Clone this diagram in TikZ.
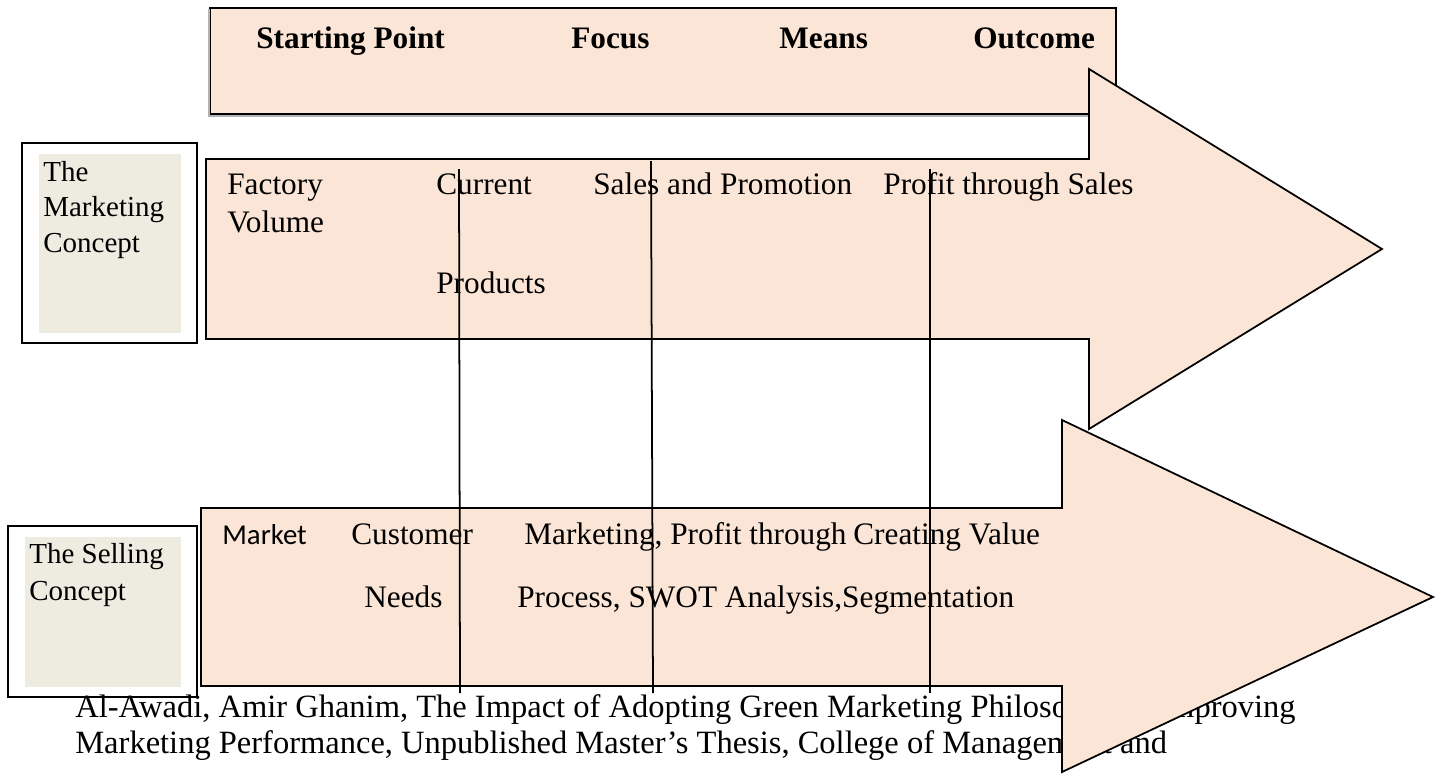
\documentclass[tikz,border=0pt]{standalone}
\usepackage{fontspec}
\setmainfont{Liberation Serif}
\newfontfamily\labelsans{Carlito}
\definecolor{peach}{RGB}{251,229,214}
\definecolor{labelgray}{RGB}{238,236,225}
\begin{document}
\begin{tikzpicture}[x = 0.02cm, y = -0.02cm,
                    arrowbody/.style = {draw, fill = peach, line width = 1pt, line join = miter},
                    framebox/.style = {draw, line width = 1.3pt},
                    txt/.style = {anchor = base west, inner sep = 0pt, font = \fontsize{17.8}{21}\selectfont},
                    head/.style = {txt, font = \fontsize{17.8}{21}\selectfont\bfseries},
                    side/.style = {txt, font = \fontsize{16.5}{20}\selectfont},
                    note/.style = {txt, font = \fontsize{18.5}{22}\selectfont},
                    divider/.style = {line width = 1pt}]
    \useasboundingbox (0,0) rectangle (1443,774);

    % column headings
    \draw[arrowbody] (210,8) rectangle (1116,114);
    \draw[gray!60, line width = 0.6pt] (209,9) -- (209,116) -- (1089,116);
    \node[head] (start)   at (256,49) {Starting Point};
    \node[head] (focus)   at (571,49) {Focus};
    \node[head] (means)   at (779,49) {Means};
    \node[head] (outcome) at (973,49) {Outcome};

    % upper arrow
    \draw[arrowbody] (206,159) -- (1089,159) -- (1089,69) -- (1382,249) -- (1089,429) -- (1089,339) -- (206,339) -- cycle;
    \node[txt] (factory)  at (227,194) {Factory};
    \node[txt] (volume)   at (227,232) {Volume};
    \node[txt] (current)  at (436,194) {Current};
    \node[txt] (products) at (436,293) {Products};
    \node[txt] (sales)    at (593,194) {Sales and Promotion};
    \node[txt] (profit)   at (883,194) {Profit through Sales};

    % side labels
    \draw[framebox] (22,143) rectangle (197,343);
    \fill[labelgray] (39,154) rectangle (181,333);
    \node[side] (mkt1) at (43,181) {The};
    \node[side] (mkt2) at (43,216.5) {Marketing};
    \node[side] (mkt3) at (43,252) {Concept};

    \draw[framebox] (8,526) rectangle (197,697);
    \fill[labelgray] (25,537) rectangle (181,687);
    \node[side] (sell1) at (29,563) {The Selling};
    \node[side] (sell2) at (29,600) {Concept};

    % source note
    \node[note] (src1) at (75,717) {Al-Awadi, Amir Ghanim, The Impact of Adopting Green Marketing Philosophy in Improving};
    \node[note] (src2) at (75,753) {Marketing Performance, Unpublished Master's Thesis, College of Management and};

    % lower arrow
    \draw[arrowbody] (201,508) -- (1062,508) -- (1062,420) -- (1433,597) -- (1062,772) -- (1062,686) -- (201,686) -- cycle;
    \node[txt, font = \labelsans\fontsize{16.4}{20}\selectfont] (market) at (222,544) {Market};
    \node[txt] (customer) at (351,544) {Customer};
    \node[txt] (needs)    at (364,607) {Needs};
    \node[txt] (mktproc)  at (524,544) {Marketing, Profit through};
    \node[txt] (swot)     at (517,607) {Process, SWOT Analysis,Segmentation};
    \node[txt] (value)    at (853,544) {Creating Value};

    % column dividers
    \foreach \i/\xa/\ya/\xb in {1/459/169/460, 2/651/161/653, 3/930/169/930} {
        \coordinate (top\i) at (\xa,\ya);
        \coordinate (bot\i) at (\xb,693);
        \draw[divider] (top\i) -- (bot\i);
    }
\end{tikzpicture}
\end{document}
